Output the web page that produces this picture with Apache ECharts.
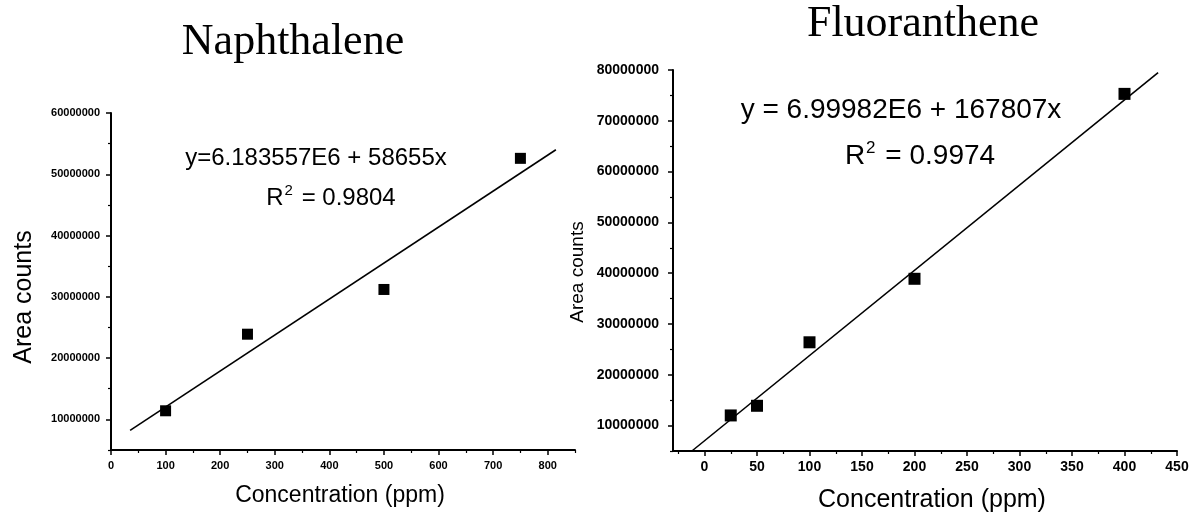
<!DOCTYPE html>
<html>
<head>
<meta charset="utf-8">
<script src="https://cdn.jsdelivr.net/npm/echarts@6/dist/echarts.min.js"></script>
<style>
html,body{margin:0;padding:0;background:#fff;}
#chart{width:1192px;height:529px;}
</style>
</head>
<body>
<div id="chart"></div>
<script>
// ---- Data ----
const naphConc = [100, 250, 500, 750];
const naphArea = [11.4e6, 23.9e6, 31.2e6, 52.6e6];
const naphFitX = [35, 815];
const naphFitY = [8.2e6, 54.0e6];

const fluorConc = [25, 50, 100, 200, 400];
const fluorArea = [12.0e6, 13.9e6, 26.4e6, 38.9e6, 75.3e6];
const fluorFitX = [-12, 432];
const fluorFitY = [5.0e6, 79.5e6];

// ---- Tick values ----
const naphXTicks = [0, 100, 200, 300, 400, 500, 600, 700, 800];
const naphXMinor = [50, 150, 250, 350, 450, 550, 650, 750, 850];
const naphYTicks = [10000000, 20000000, 30000000, 40000000, 50000000, 60000000];
const naphYMinor = [5000000, 15000000, 25000000, 35000000, 45000000, 55000000];

const fluorXTicks = [0, 50, 100, 150, 200, 250, 300, 350, 400, 450];
const fluorXMinor = [-25, 25, 75, 125, 175, 225, 275, 325, 375, 425];
const fluorYTicks = [10000000, 20000000, 30000000, 40000000, 50000000, 60000000, 70000000, 80000000];
const fluorYMinor = [5000000, 15000000, 25000000, 35000000, 45000000, 55000000, 65000000, 75000000];

const SANS = '"Liberation Sans", Arial, sans-serif';
const SERIF = '"Liberation Serif", "Times New Roman", serif';

function majorAxis(gridIndex, min, max, ticks, fontSize, margin, pos) {
  return {
    type: 'value', gridIndex, min, max, position: pos,
    axisLine: { show: true, onZero: false, lineStyle: { color: '#000', width: 2 } },
    axisTick: { show: true, inside: false, length: 5, customValues: ticks, lineStyle: { color: '#000', width: 1.5 } },
    axisLabel: { show: true, customValues: ticks, color: '#000', fontFamily: SANS, fontWeight: 'bold', fontSize, margin,
                 formatter: v => String(v) },
    splitLine: { show: false }
  };
}
function minorAxis(gridIndex, min, max, ticks, pos) {
  return {
    type: 'value', gridIndex, min, max, position: pos,
    axisLine: { show: false, onZero: false },
    axisTick: { show: true, inside: false, length: 3, customValues: ticks, lineStyle: { color: '#000', width: 1.2 } },
    axisLabel: { show: false },
    splitLine: { show: false }
  };
}

const chart = echarts.init(document.getElementById('chart'), null, { renderer: 'canvas' });

const option = {
  backgroundColor: '#fff',
  animation: false,
  grid: [
    { left: 111, top: 113, width: 464, height: 337 },
    { left: 673, top: 70, width: 504, height: 381 }
  ],
  xAxis: [
    majorAxis(0, 0, 850, naphXTicks, 11, 10, 'bottom'),
    minorAxis(0, 0, 850, naphXMinor, 'bottom'),
    majorAxis(1, -30, 450, fluorXTicks, 14, 9, 'bottom'),
    minorAxis(1, -30, 450, fluorXMinor, 'bottom')
  ],
  yAxis: [
    majorAxis(0, 5e6, 6e7, naphYTicks, 11, 11, 'left'),
    minorAxis(0, 5e6, 6e7, naphYMinor, 'left'),
    majorAxis(1, 5e6, 8e7, fluorYTicks, 14, 14, 'left'),
    minorAxis(1, 5e6, 8e7, fluorYMinor, 'left')
  ],
  series: [
    {
      type: 'line', xAxisIndex: 0, yAxisIndex: 0,
      data: naphFitX.map((x, i) => [x, naphFitY[i]]),
      symbol: 'none', lineStyle: { color: '#000', width: 1.6 }, silent: true
    },
    {
      type: 'scatter', xAxisIndex: 0, yAxisIndex: 0,
      data: naphConc.map((x, i) => [x, naphArea[i]]),
      symbol: 'rect', symbolSize: 11, itemStyle: { color: '#000', opacity: 1 }
    },
    {
      type: 'line', xAxisIndex: 2, yAxisIndex: 2,
      data: fluorFitX.map((x, i) => [x, fluorFitY[i]]),
      symbol: 'none', lineStyle: { color: '#000', width: 1.6 }, silent: true
    },
    {
      type: 'scatter', xAxisIndex: 2, yAxisIndex: 2,
      data: fluorConc.map((x, i) => [x, fluorArea[i]]),
      symbol: 'rect', symbolSize: 12, itemStyle: { color: '#000', opacity: 1 }
    }
  ],
  graphic: [
    { type: 'text', x: 293, y: 42, style: { text: 'Naphthalene', font: '44px ' + SERIF, fill: '#000', align: 'center', verticalAlign: 'middle' } },
    { type: 'text', x: 923, y: 24, style: { text: 'Fluoranthene', font: '44px ' + SERIF, fill: '#000', align: 'center', verticalAlign: 'middle' } },
    { type: 'text', x: 316, y: 158, style: { text: 'y=6.183557E6 + 58655x', font: '24px ' + SANS, fill: '#000', align: 'center', verticalAlign: 'middle' } },
    { type: 'text', x: 331, y: 197, style: {
        text: '{r|R}{s|2}{r| = 0.9804}', align: 'center', verticalAlign: 'middle',
        rich: { r: { font: '24px ' + SANS, fill: '#000', verticalAlign: 'bottom' }, s: { font: '15px ' + SANS, fill: '#000', verticalAlign: 'top', padding: [0, 2, 12, 1] } } } },
    { type: 'text', x: 901, y: 110, style: { text: 'y = 6.99982E6 + 167807x', font: '28px ' + SANS, fill: '#000', align: 'center', verticalAlign: 'middle' } },
    { type: 'text', x: 920, y: 155, style: {
        text: '{r|R}{s|2}{r| = 0.9974}', align: 'center', verticalAlign: 'middle',
        rich: { r: { font: '28px ' + SANS, fill: '#000', verticalAlign: 'bottom' }, s: { font: '17px ' + SANS, fill: '#000', verticalAlign: 'top', padding: [0, 2, 14, 1] } } } },
    { type: 'text', x: 340, y: 496, style: { text: 'Concentration (ppm)', font: '23px ' + SANS, fill: '#000', align: 'center', verticalAlign: 'middle' } },
    { type: 'text', x: 932, y: 500, style: { text: 'Concentration (ppm)', font: '25px ' + SANS, fill: '#000', align: 'center', verticalAlign: 'middle' } },
    { type: 'text', x: 24, y: 297, rotation: Math.PI / 2, style: { text: 'Area counts', font: '25px ' + SANS, fill: '#000', align: 'center', verticalAlign: 'middle' } },
    { type: 'text', x: 578, y: 272, rotation: Math.PI / 2, style: { text: 'Area counts', font: '19px ' + SANS, fill: '#000', align: 'center', verticalAlign: 'middle' } }
  ]
};
chart.setOption(option);
</script>
</body>
</html>
